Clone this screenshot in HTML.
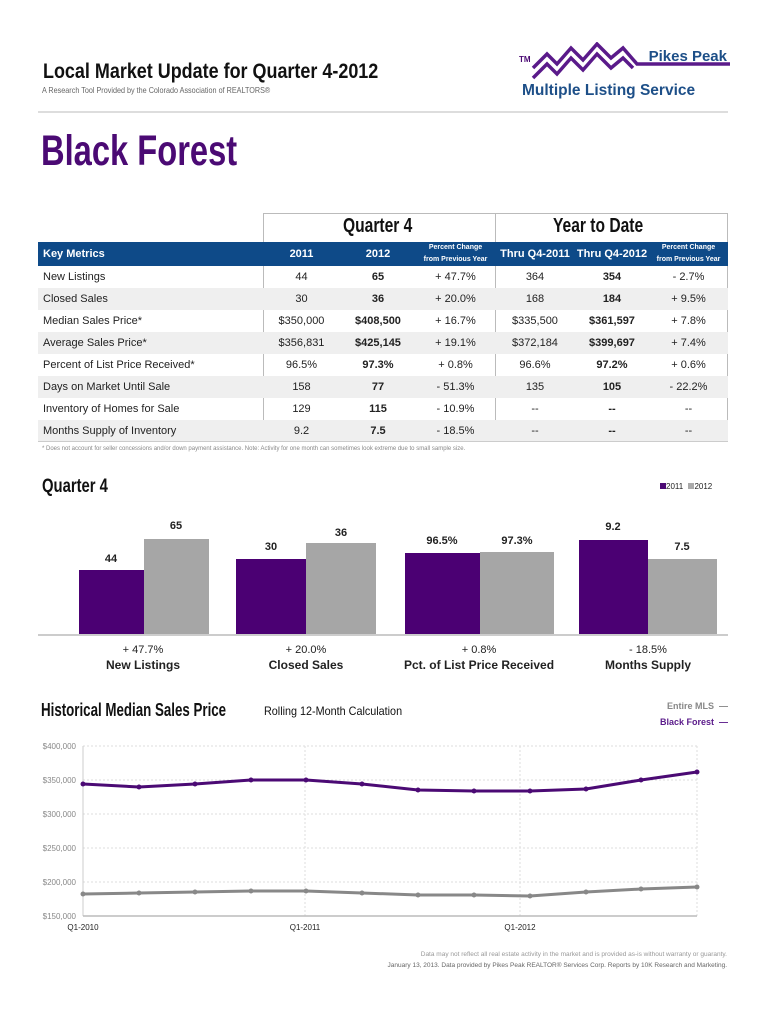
<!DOCTYPE html>
<html><head><meta charset="utf-8">
<style>
body{margin:0;width:768px;height:1024px;background:#fff;position:relative;font-family:"Liberation Sans",sans-serif;overflow:hidden}
.a{position:absolute;white-space:nowrap}
.n{font-family:"Liberation Sans",sans-serif;font-weight:bold;transform-origin:0 0}
table{position:absolute;left:38px;top:242px;border-collapse:collapse;font-size:11px;color:#222}
td{height:22px;padding:0;text-align:center}
td.l{text-align:left;padding-left:5px}
tr.g td{background:#efefef}
tr.h td{background:#0e4a88;color:#fff;font-weight:bold;height:24px}
.sm{font-size:7px;font-weight:normal;line-height:12px}
b{font-weight:bold}
</style></head><body>
<div class="a n" style="left:43px;top:60px;font-size:21px;color:#111;transform:scaleX(0.855)">Local Market Update for Quarter 4-2012</div>
<div class="a" style="left:42px;top:85px;font-size:8.5px;color:#666;transform:scaleX(0.85);transform-origin:0 0">A Research Tool Provided by the Colorado Association of REALTORS®</div>
<svg class="a" style="left:515px;top:42px" width="215" height="40" viewBox="0 0 215 40">
<text x="4" y="20" font-size="8" font-weight="bold" fill="#4b0a74" font-family="Liberation Sans">TM</text>
<polyline points="18,26 32,12 42,22 56,6 68,18 82,2 96,16 108,6 122,22 215,22" fill="none" stroke="#5a1a8a" stroke-width="3.5"/>
<polyline points="18,36 32,22 42,32 56,16 68,28 82,12 96,26 108,16 118,26" fill="none" stroke="#5a1a8a" stroke-width="3.5"/>
<text x="212" y="19" text-anchor="end" font-size="15" font-weight="bold" fill="#1d4f88" font-family="Liberation Sans">Pikes Peak</text>
</svg>
<div class="a" style="left:522px;top:82px;font-size:15.5px;font-weight:bold;color:#1d4f88">Multiple Listing Service</div>
<div class="a" style="left:38px;top:111px;width:690px;height:2px;background:#ddd"></div>
<div class="a n" style="left:41px;top:127px;font-size:43px;color:#4b0a74;transform:scaleX(0.76)">Black Forest</div>

<div class="a" style="left:263px;top:213px;width:1px;height:229px;background:#bbb"></div>
<div class="a" style="left:495px;top:213px;width:1px;height:229px;background:#bbb"></div>
<div class="a" style="left:727px;top:213px;width:1px;height:229px;background:#bbb"></div>
<div class="a" style="left:263px;top:213px;width:465px;height:1px;background:#bbb"></div>
<div class="a n" style="left:343px;top:215px;font-size:20px;color:#111;transform:scaleX(0.78)">Quarter 4</div>
<div class="a n" style="left:553px;top:215px;font-size:20px;color:#111;transform:scaleX(0.78)">Year to Date</div>
<table>
<colgroup><col style="width:225px"><col style="width:77px"><col style="width:76px"><col style="width:79px"><col style="width:80px"><col style="width:74px"><col style="width:79px"></colgroup>
<tr class="h"><td class="l">Key Metrics</td><td>2011</td><td>2012</td><td class="sm">Percent Change<br>from Previous Year</td><td>Thru Q4-2011</td><td>Thru Q4-2012</td><td class="sm">Percent Change<br>from Previous Year</td></tr>
<tr><td class="l">New Listings</td><td>44</td><td><b>65</b></td><td>+ 47.7%</td><td>364</td><td><b>354</b></td><td>- 2.7%</td></tr>
<tr class="g"><td class="l">Closed Sales</td><td>30</td><td><b>36</b></td><td>+ 20.0%</td><td>168</td><td><b>184</b></td><td>+ 9.5%</td></tr>
<tr><td class="l">Median Sales Price*</td><td>$350,000</td><td><b>$408,500</b></td><td>+ 16.7%</td><td>$335,500</td><td><b>$361,597</b></td><td>+ 7.8%</td></tr>
<tr class="g"><td class="l">Average Sales Price*</td><td>$356,831</td><td><b>$425,145</b></td><td>+ 19.1%</td><td>$372,184</td><td><b>$399,697</b></td><td>+ 7.4%</td></tr>
<tr><td class="l">Percent of List Price Received*</td><td>96.5%</td><td><b>97.3%</b></td><td>+ 0.8%</td><td>96.6%</td><td><b>97.2%</b></td><td>+ 0.6%</td></tr>
<tr class="g"><td class="l">Days on Market Until Sale</td><td>158</td><td><b>77</b></td><td>- 51.3%</td><td>135</td><td><b>105</b></td><td>- 22.2%</td></tr>
<tr><td class="l">Inventory of Homes for Sale</td><td>129</td><td><b>115</b></td><td>- 10.9%</td><td>--</td><td><b>--</b></td><td>--</td></tr>
<tr class="g"><td class="l">Months Supply of Inventory</td><td>9.2</td><td><b>7.5</b></td><td>- 18.5%</td><td>--</td><td><b>--</b></td><td>--</td></tr>
</table>
<div class="a" style="left:38px;top:441px;width:690px;height:1px;background:#ccc"></div>
<div class="a" style="left:42px;top:446px;font-size:6px;color:#888">* Does not account for seller concessions and/or down payment assistance. Note: Activity for one month can sometimes look extreme due to small sample size.</div>

<div class="a n" style="left:42px;top:476px;font-size:19px;color:#111;transform:scaleX(0.78)">Quarter 4</div>
<div class="a" style="left:660px;top:482px;font-size:8px;color:#222"><span style="display:inline-block;width:6px;height:6px;background:#4b0a74"></span>2011 <span style="display:inline-block;width:6px;height:6px;background:#aaa;margin-left:3px"></span>2012</div>
<svg class="a" style="left:0;top:0" width="768" height="1024">
<g font-family="Liberation Sans" font-weight="bold" font-size="11" fill="#222" text-anchor="middle">
<rect x="79" y="570" width="65" height="65" fill="#4b0073"/><rect x="144" y="539" width="65" height="96" fill="#a6a6a6"/>
<text x="111" y="562">44</text><text x="176" y="529">65</text>
<rect x="236" y="559" width="70" height="76" fill="#4b0073"/><rect x="306" y="543" width="70" height="92" fill="#a6a6a6"/>
<text x="271" y="550">30</text><text x="341" y="536">36</text>
<rect x="405" y="553" width="75" height="82" fill="#4b0073"/><rect x="480" y="552" width="74" height="83" fill="#a6a6a6"/>
<text x="442" y="544">96.5%</text><text x="517" y="544">97.3%</text>
<rect x="579" y="540" width="69" height="95" fill="#4b0073"/><rect x="648" y="559" width="69" height="76" fill="#a6a6a6"/>
<text x="613" y="530">9.2</text><text x="682" y="550">7.5</text>
</g>
<rect x="38" y="634" width="690" height="2" fill="#ccc"/>
<g font-family="Liberation Sans" font-size="11" fill="#222" text-anchor="middle">
<text x="143" y="653">+ 47.7%</text><text x="306" y="653">+ 20.0%</text><text x="479" y="653">+ 0.8%</text><text x="648" y="653">- 18.5%</text>
<g font-weight="bold" font-size="12"><text x="143" y="669">New Listings</text><text x="306" y="669">Closed Sales</text><text x="479" y="669">Pct. of List Price Received</text><text x="648" y="669">Months Supply</text></g>
</g>

<g stroke="#ddd" stroke-dasharray="2,2" fill="none">
<line x1="83" y1="746" x2="697" y2="746"/><line x1="83" y1="780" x2="697" y2="780"/><line x1="83" y1="814" x2="697" y2="814"/><line x1="83" y1="848" x2="697" y2="848"/><line x1="83" y1="882" x2="697" y2="882"/>
<line x1="305" y1="746" x2="305" y2="916"/><line x1="520" y1="746" x2="520" y2="916"/><line x1="697" y1="746" x2="697" y2="916"/>
</g>
<line x1="83" y1="746" x2="83" y2="916" stroke="#ccc"/>
<line x1="83" y1="916" x2="697" y2="916" stroke="#bbb" stroke-width="1.5"/>
<g font-family="Liberation Sans" font-size="8" fill="#888" text-anchor="end">
<text x="76" y="749">$400,000</text><text x="76" y="783">$350,000</text><text x="76" y="817">$300,000</text><text x="76" y="851">$250,000</text><text x="76" y="885">$200,000</text><text x="76" y="919">$150,000</text>
</g>
<g font-family="Liberation Sans" font-size="8" fill="#222" text-anchor="middle">
<text x="83" y="930">Q1-2010</text><text x="305" y="930">Q1-2011</text><text x="520" y="930">Q1-2012</text>
</g>
<polyline fill="none" stroke="#4b0a74" stroke-width="3" points="83,784 139,787 195,784 251,780 306,780 362,784 418,790 474,791 530,791 586,789 641,780 697,772"/>
<polyline fill="none" stroke="#888" stroke-width="3" points="83,894 139,893 195,892 251,891 306,891 362,893 418,895 474,895 530,896 586,892 641,889 697,887"/>
<g fill="#4b0a74"><circle cx="83" cy="784" r="2.5"/><circle cx="139" cy="787" r="2.5"/><circle cx="195" cy="784" r="2.5"/><circle cx="251" cy="780" r="2.5"/><circle cx="306" cy="780" r="2.5"/><circle cx="362" cy="784" r="2.5"/><circle cx="418" cy="790" r="2.5"/><circle cx="474" cy="791" r="2.5"/><circle cx="530" cy="791" r="2.5"/><circle cx="586" cy="789" r="2.5"/><circle cx="641" cy="780" r="2.5"/><circle cx="697" cy="772" r="2.5"/></g>
<g fill="#888"><circle cx="83" cy="894" r="2.5"/><circle cx="139" cy="893" r="2.5"/><circle cx="195" cy="892" r="2.5"/><circle cx="251" cy="891" r="2.5"/><circle cx="306" cy="891" r="2.5"/><circle cx="362" cy="893" r="2.5"/><circle cx="418" cy="895" r="2.5"/><circle cx="474" cy="895" r="2.5"/><circle cx="530" cy="896" r="2.5"/><circle cx="586" cy="892" r="2.5"/><circle cx="641" cy="889" r="2.5"/><circle cx="697" cy="887" r="2.5"/></g>
</svg>
<div class="a n" style="left:41px;top:700px;font-size:18px;color:#111;transform:scaleX(0.74)">Historical Median Sales Price</div>
<div class="a n" style="left:264px;top:704px;font-size:12px;font-weight:normal;color:#111;transform:scaleX(0.9)">Rolling 12-Month Calculation</div>
<div class="a" style="right:40px;top:701px;font-size:9px;font-weight:bold;color:#888">Entire MLS &nbsp;—</div>
<div class="a" style="right:40px;top:717px;font-size:9px;font-weight:bold;color:#5a1a8a">Black Forest &nbsp;—</div>
<div class="a" style="right:41px;top:951px;font-size:6.5px;color:#999">Data may not reflect all real estate activity in the market and is provided as-is without warranty or guaranty.</div>
<div class="a" style="right:41px;top:962px;font-size:6.5px;color:#666">January 13, 2013. Data provided by Pikes Peak REALTOR® Services Corp. Reports by 10K Research and Marketing.</div>
</body></html>
